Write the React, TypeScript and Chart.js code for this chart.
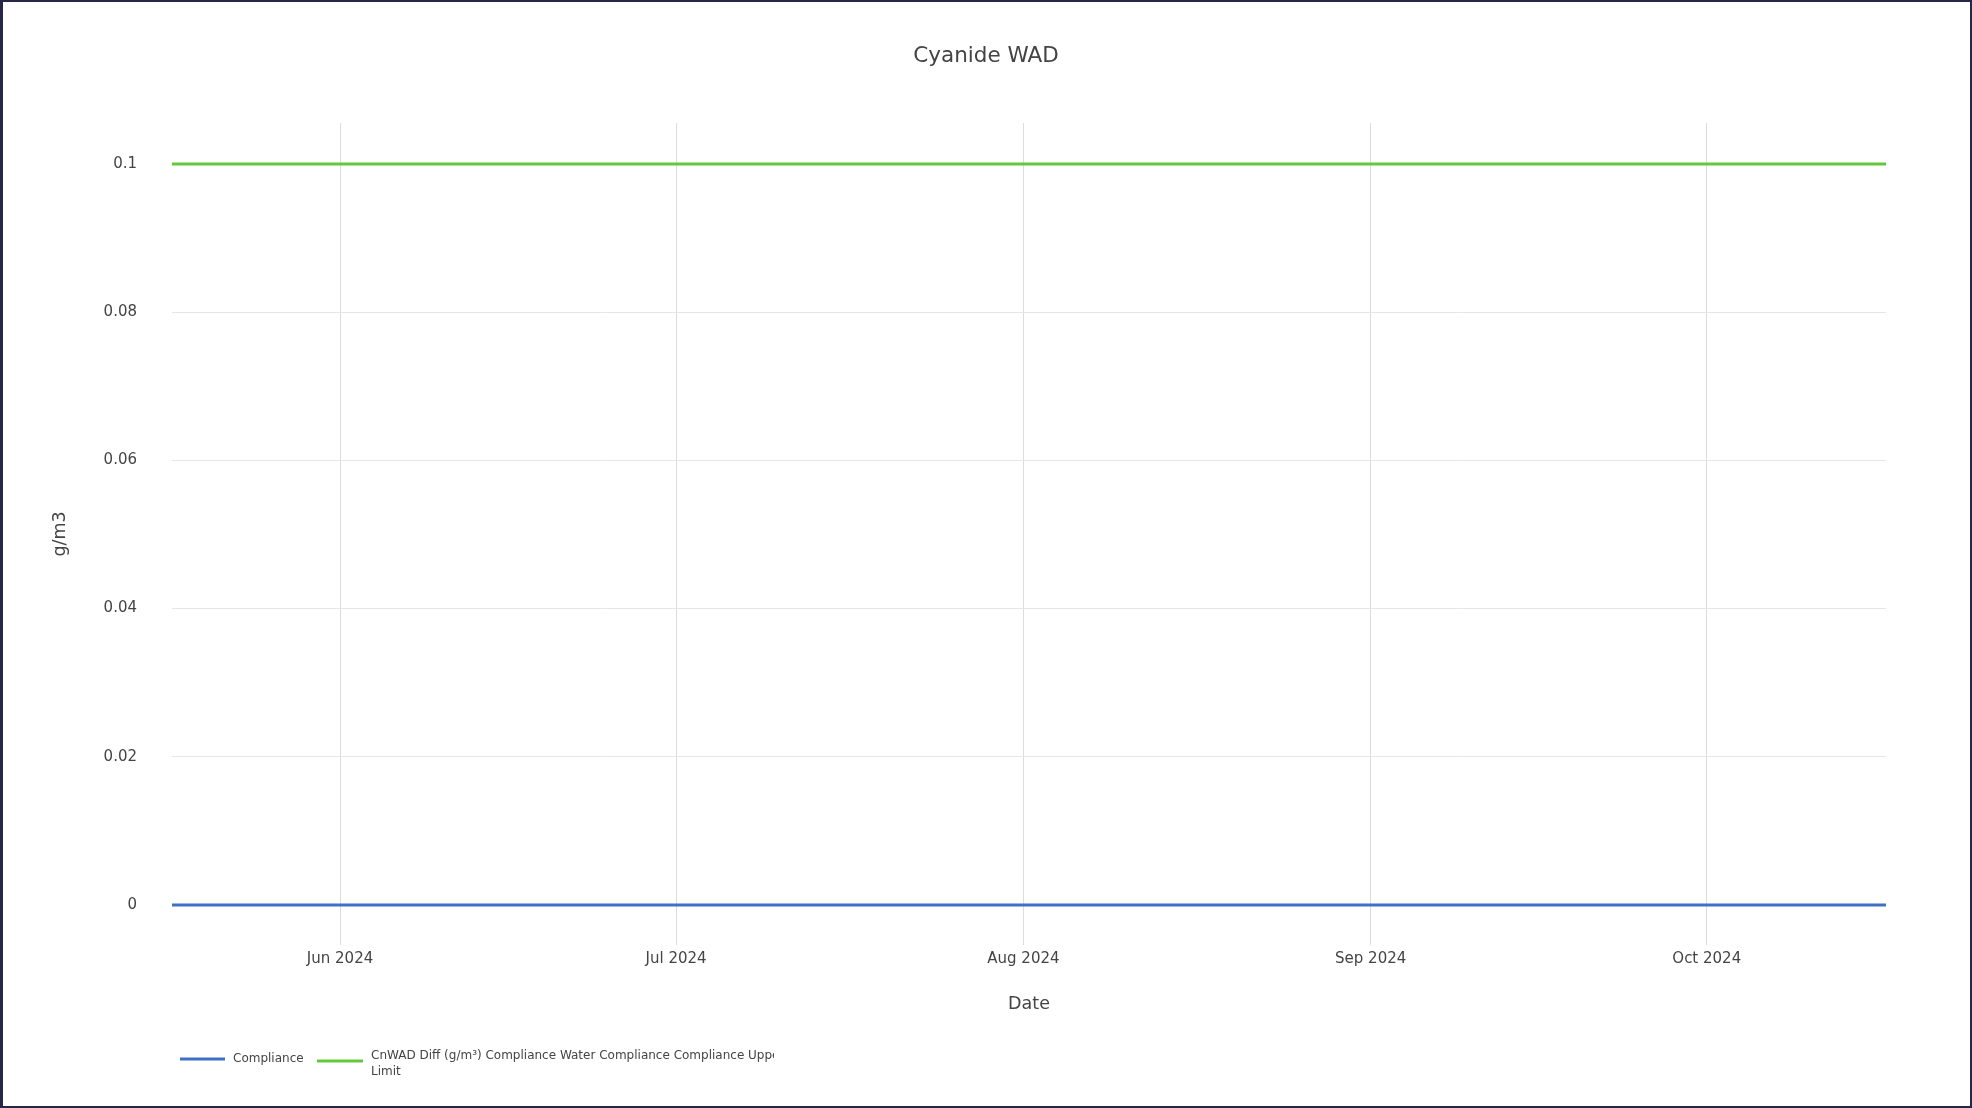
import React, { useEffect, useRef } from "react";
import { Chart, registerables } from "chart.js";

Chart.register(...registerables);

const chartTitle = "Cyanide WAD";
const xAxisTitle = "Date";
const yAxisTitle = "g/m3";

const dates = ["2024-05-17", "2024-10-17"];
const complianceValues = [0, 0];
const limitValues = [0.1, 0.1];

const seriesNames = ["Compliance", "CnWAD Diff (g/m³) Compliance Water Compliance Compliance Upper Limit"];
const legendLines = [["Compliance"], ["CnWAD Diff (g/m³) Compliance Water Compliance Compliance Upper", "Limit"]];
const seriesColors = ["#3d70c6", "#62c93c"];

const xTickDates = ["2024-06-01", "2024-07-01", "2024-08-01", "2024-09-01", "2024-10-01"];
const xTickLabels = ["Jun 2024", "Jul 2024", "Aug 2024", "Sep 2024", "Oct 2024"];
const yTicks = [0, 0.02, 0.04, 0.06, 0.08, 0.1];
const yTickLabels = ["0", "0.02", "0.04", "0.06", "0.08", "0.1"];

const xMinDate = "2024-05-17";
const xMaxDate = "2024-10-17";
const yMin = -0.0054;
const yMax = 0.10553;

const toMs = (d: string) => {
  const [y, m, day] = d.split("-").map(Number);
  return Date.UTC(y, m - 1, day);
};

const FONT = '"DejaVu Sans", Verdana, sans-serif';
const TEXT = "#444";

const legendPlugin = {
  id: "customLegend",
  afterDraw(chart: any) {
    const ctx = chart.ctx as CanvasRenderingContext2D;
    ctx.save();
    ctx.font = `12px ${FONT}`;
    ctx.textBaseline = "middle";
    ctx.textAlign = "left";
    // item 1
    ctx.strokeStyle = seriesColors[0];
    ctx.lineWidth = 3;
    ctx.beginPath();
    ctx.moveTo(180, 1059);
    ctx.lineTo(225, 1059);
    ctx.stroke();
    ctx.fillStyle = TEXT;
    ctx.fillText(legendLines[0][0], 233, 1059);
    // item 2
    ctx.strokeStyle = seriesColors[1];
    ctx.beginPath();
    ctx.moveTo(317, 1061);
    ctx.lineTo(363, 1061);
    ctx.stroke();
    ctx.save();
    ctx.beginPath();
    ctx.rect(368, 1040, 406, 50);
    ctx.clip();
    ctx.fillStyle = TEXT;
    legendLines[1].forEach((t, i) => ctx.fillText(t, 371, 1056 + i * 15.5));
    ctx.restore();
    ctx.restore();
  },
};

export default function App() {
  const ref = useRef<HTMLCanvasElement | null>(null);

  useEffect(() => {
    if (!ref.current) return;
    const chart = new Chart(ref.current, {
      type: "line",
      data: {
        datasets: [
          {
            label: seriesNames[0],
            data: dates.map((d, i) => ({ x: toMs(d), y: complianceValues[i] })),
            borderColor: seriesColors[0],
            backgroundColor: seriesColors[0],
            borderWidth: 3,
            pointRadius: 0,
            order: 1,
          },
          {
            label: seriesNames[1],
            data: dates.map((d, i) => ({ x: toMs(d), y: limitValues[i] })),
            borderColor: seriesColors[1],
            backgroundColor: seriesColors[1],
            borderWidth: 3,
            pointRadius: 0,
            order: 2,
          },
        ],
      },
      options: {
        animation: false,
        responsive: false,
        layout: { padding: 0 },
        plugins: {
          legend: { display: false },
          tooltip: { enabled: false },
          title: {
            display: true,
            text: chartTitle,
            color: TEXT,
            font: { family: FONT, size: 21.5, weight: "normal" },
            padding: { top: 44, bottom: 53.2 },
          },
        },
        scales: {
          x: {
            type: "linear",
            min: toMs(xMinDate),
            max: toMs(xMaxDate),
            afterBuildTicks: (scale: any) => {
              scale.ticks = xTickDates.map((d) => ({ value: toMs(d) }));
            },
            afterFit: (scale: any) => {
              scale.height = 163;
            },
            ticks: {
              color: TEXT,
              font: { family: FONT, size: 15 },
              padding: 5,
              maxRotation: 0,
              autoSkip: false,
              callback: (v: any) => {
                const i = xTickDates.findIndex((d) => toMs(d) === v);
                return i >= 0 ? xTickLabels[i] : "";
              },
            },
            grid: { color: "#dcdcdc", lineWidth: 1, drawTicks: false },
            border: { display: false },
            title: {
              display: true,
              text: xAxisTitle,
              color: TEXT,
              font: { family: FONT, size: 17.5 },
              padding: { top: 0, bottom: 93.5 },
            },
          },
          y: {
            type: "linear",
            position: "left",
            min: yMin,
            max: yMax,
            afterBuildTicks: (scale: any) => {
              scale.ticks = yTicks.map((v) => ({ value: v }));
            },
            afterFit: (scale: any) => {
              scale.width = 172;
            },
            ticks: {
              color: TEXT,
              font: { family: FONT, size: 15 },
              padding: 35,
              callback: (v: any) => {
                const i = yTicks.findIndex((t) => Math.abs(t - v) < 1e-9);
                return i >= 0 ? yTickLabels[i] : "";
              },
            },
            grid: { color: "#e6e6e6", lineWidth: 1, drawTicks: false },
            border: { display: false },
            title: {
              display: true,
              text: yAxisTitle,
              color: TEXT,
              font: { family: FONT, size: 17.5 },
              padding: { top: 50, bottom: 0 },
            },
          },
          yRightSpace: {
            type: "linear",
            position: "right",
            display: true,
            min: yMin,
            max: yMax,
            afterFit: (scale: any) => {
              scale.width = 86;
            },
            ticks: { display: false },
            grid: { display: false, drawTicks: false },
            border: { display: false },
          },
        },
      },
      plugins: [legendPlugin],
    });
    return () => chart.destroy();
  }, []);

  return (
    <div style={{ position: "fixed", left: 0, top: 0, width: 1972, height: 1108, background: "#fff" }}>
      <canvas ref={ref} width={1972} height={1108} style={{ display: "block", width: 1972, height: 1108 }} />
      <div
        style={{
          position: "absolute",
          left: 0,
          top: 0,
          width: 1972,
          height: 1108,
          boxSizing: "border-box",
          borderTop: "2px solid #262648",
          borderBottom: "2px solid #262648",
          borderLeft: "3px solid #262648",
          borderRight: "2px solid #262648",
          pointerEvents: "none",
        }}
      />
    </div>
  );
}
